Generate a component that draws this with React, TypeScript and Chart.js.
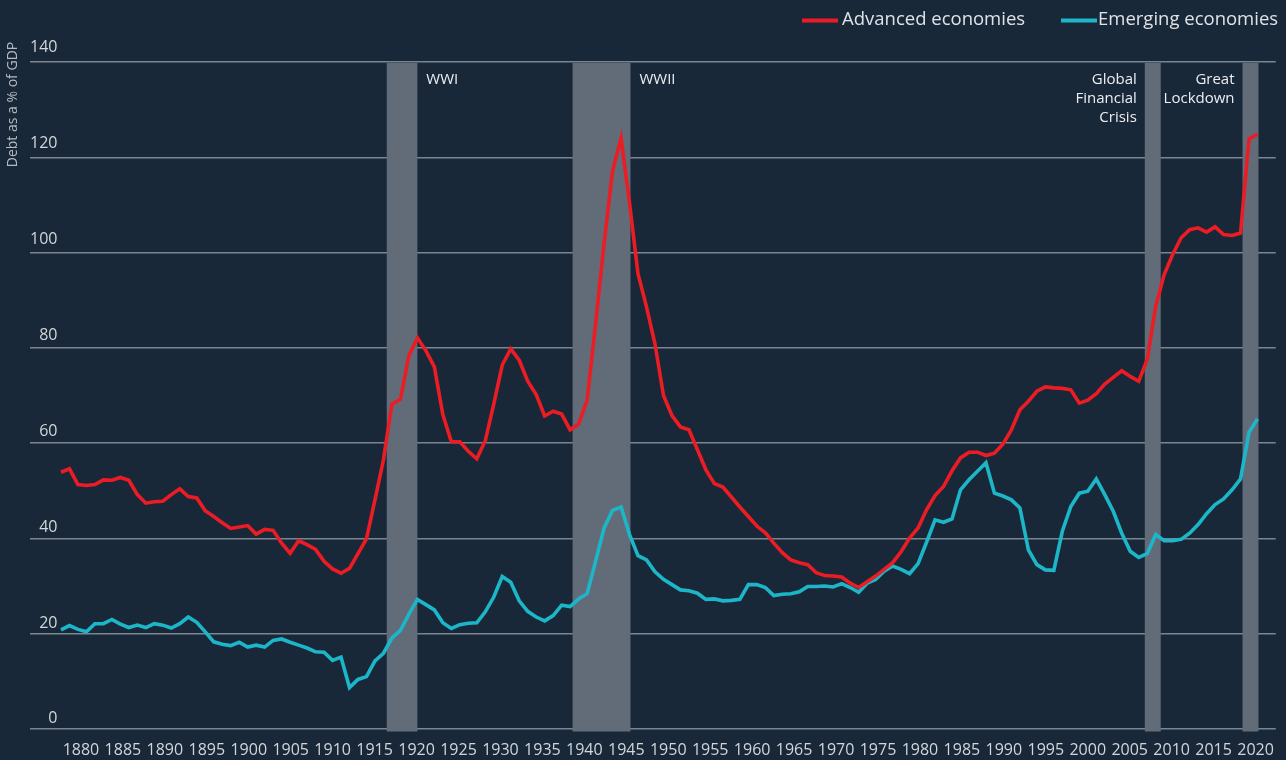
import React, { useEffect, useRef } from "react";
import { Chart, registerables } from "chart.js";

Chart.register(...registerables);

// ---------- data ----------
const FIRST_YEAR = 1880;

const advancedEconomies = [
  53.9, 54.6, 51.3, 51.1, 51.3, 52.3, 52.2, 52.8, 52.2, 49.2,
  47.4, 47.7, 47.8, 49.2, 50.4, 48.8, 48.5, 45.8, 44.6, 43.3,
  42.1, 42.4, 42.7, 40.9, 41.9, 41.7, 39.0, 36.9, 39.5, 38.7,
  37.7, 35.2, 33.6, 32.7, 33.7, 36.8, 39.9, 48.1, 56.5, 68.2,
  69.2, 78.4, 82.1, 79.4, 76.0, 66.0, 60.3, 60.3, 58.3, 56.7,
  60.5, 68.2, 76.4, 79.8, 77.4, 73.0, 70.2, 65.7, 66.7, 66.1,
  62.8, 64.0, 69.0, 85.0, 101.9, 117.2, 124.0, 110.4, 95.5, 88.6,
  80.8, 70.0, 65.8, 63.4, 62.8, 58.6, 54.4, 51.5, 50.8, 48.7,
  46.6, 44.6, 42.6, 41.2, 39.0, 37.0, 35.5, 34.9, 34.5, 32.8,
  32.2, 32.1, 31.9, 30.6, 29.7, 30.9, 32.1, 33.5, 34.9, 37.2,
  40.1, 42.2, 46.0, 49.0, 50.9, 54.2, 56.9, 58.1, 58.1, 57.4,
  57.9, 59.8, 62.8, 67.0, 68.8, 70.9, 71.8, 71.6, 71.5, 71.2,
  68.4, 69.0, 70.4, 72.4, 73.8, 75.2, 74.0, 73.0, 77.5, 88.7,
  95.4, 99.6, 103.1, 104.8, 105.2, 104.3, 105.4, 103.8, 103.6, 104.1,
  123.9, 124.8,
];

const emergingEconomies = [
  20.8, 21.7, 20.9, 20.4, 22.1, 22.1, 23.0, 22.0, 21.3, 21.8,
  21.3, 22.1, 21.8, 21.2, 22.1, 23.5, 22.4, 20.4, 18.3, 17.8,
  17.5, 18.2, 17.2, 17.6, 17.2, 18.6, 18.9, 18.2, 17.6, 17.0,
  16.2, 16.1, 14.4, 15.1, 8.7, 10.4, 11.0, 14.3, 15.9, 19.1,
  20.7, 24.1, 27.2, 26.1, 25.0, 22.3, 21.1, 21.9, 22.2, 22.3,
  24.6, 27.7, 32.0, 30.8, 26.9, 24.7, 23.5, 22.7, 23.8, 26.0,
  25.7, 27.3, 28.4, 35.2, 42.2, 45.9, 46.6, 40.8, 36.4, 35.5,
  33.0, 31.4, 30.3, 29.2, 29.0, 28.5, 27.2, 27.3, 26.9, 27.0,
  27.2, 30.3, 30.3, 29.7, 28.0, 28.3, 28.4, 28.8, 29.9, 29.9,
  30.0, 29.8, 30.5, 29.7, 28.7, 30.6, 31.4, 33.1, 34.2, 33.5,
  32.6, 34.7, 39.2, 43.9, 43.4, 44.1, 50.2, 52.3, 54.1, 55.9,
  49.5, 48.9, 48.1, 46.4, 37.6, 34.5, 33.4, 33.3, 41.5, 46.7,
  49.5, 49.9, 52.5, 49.2, 45.7, 41.1, 37.3, 36.0, 36.8, 40.8,
  39.5, 39.5, 39.8, 41.1, 42.9, 45.2, 47.1, 48.3, 50.2, 52.5,
  62.3, 65.1,
];

const seriesNames = ["Advanced economies", "Emerging economies"];
const seriesColors = ["#ec1c24", "#1db6c9"];

const xTickYears = [
  1880, 1885, 1890, 1895, 1900, 1905, 1910, 1915, 1920, 1925, 1930, 1935,
  1940, 1945, 1950, 1955, 1960, 1965, 1970, 1975, 1980, 1985, 1990, 1995,
  2000, 2005, 2010, 2015, 2020,
];
const yTickValues = [0, 20, 40, 60, 80, 100, 120, 140];

const eventNames = [["WWI"], ["WWII"], ["Global", "Financial", "Crisis"], ["Great", "Lockdown"]];
const eventStarts = [1916.45, 1938.6, 2006.8, 2018.45];
const eventEnds = [1920.1, 1945.5, 2008.7, 2020.35];
const eventTextSide = ["right", "right", "left", "left"];

// ---------- styles ----------
const BG = "#182838";
const FONT = "'Open Sans', 'Noto Sans', sans-serif";
const BAND = "#626c79";
const GRID = "#7a8591";
const TICK = "#d2d6db";

const overlayPlugin = {
  id: "overlay",
  beforeDatasetsDraw(chart: any) {
    const { ctx, chartArea } = chart;
    const xs = chart.scales.xl;
    ctx.save();
    ctx.fillStyle = BAND;
    eventStarts.forEach((s, i) => {
      const x0 = xs.getPixelForValue(s);
      const x1 = xs.getPixelForValue(eventEnds[i]);
      ctx.fillRect(x0, chartArea.top + 1, x1 - x0, chartArea.bottom - chartArea.top + 1.5);
    });
    ctx.restore();
  },
  afterDraw(chart: any) {
    const { ctx, chartArea } = chart;
    const xs = chart.scales.xl;
    ctx.save();
    // event annotations
    ctx.font = `15px ${FONT}`;
    ctx.fillStyle = "#eceef1";
    ctx.textBaseline = "middle";
    eventNames.forEach((lines, i) => {
      const right = eventTextSide[i] === "right";
      const x = right
        ? xs.getPixelForValue(eventEnds[i]) + 9
        : xs.getPixelForValue(eventStarts[i]) - 8;
      ctx.textAlign = right ? "left" : "right";
      lines.forEach((t, j) => ctx.fillText(t, x, chartArea.top + 18 + j * 19));
    });
    // y axis title
    ctx.save();
    ctx.translate(13.5, 104.5);
    ctx.rotate(-Math.PI / 2);
    ctx.font = `14px ${FONT}`;
    ctx.fillStyle = "#b3bac2";
    ctx.textAlign = "center";
    ctx.textBaseline = "middle";
    ctx.fillText("Debt as a % of GDP", 0, 0);
    ctx.restore();
    // legend
    const legendStarts = [802, 1061];
    const legendGaps = [4, 1];
    ctx.font = `18.5px ${FONT}`;
    ctx.textAlign = "left";
    ctx.textBaseline = "middle";
    seriesNames.forEach((name, i) => {
      const x = legendStarts[i];
      ctx.fillStyle = seriesColors[i];
      ctx.fillRect(x, 18.5, 36, 4);
      ctx.fillStyle = "#dfe2e6";
      ctx.fillText(name, x + 36 + legendGaps[i], 20);
    });
    ctx.restore();
  },
};

export default function App() {
  const canvasRef = useRef<HTMLCanvasElement | null>(null);

  useEffect(() => {
    const canvas = canvasRef.current;
    if (!canvas) return;
    const series = [advancedEconomies, emergingEconomies];
    const chart = new Chart(canvas, {
      type: "line",
      data: {
        datasets: series.map((vals, s) => ({
          label: seriesNames[s],
          data: vals.map((v, i) => ({ x: FIRST_YEAR + i, y: v })),
          borderColor: seriesColors[s],
          backgroundColor: seriesColors[s],
          borderWidth: 3.6,
          pointRadius: 0,
          tension: 0,
          fill: false,
          xAxisID: "x",
          yAxisID: "y",
        })),
      },
      options: {
        animation: false,
        responsive: true,
        maintainAspectRatio: false,
        devicePixelRatio: 1,
        layout: { padding: { left: 30, right: 9, top: 62, bottom: 0 } },
        plugins: {
          legend: { display: false },
          tooltip: { enabled: false },
        },
        scales: {
          x: {
            type: "linear",
            display: false,
            min: 1876.35,
            max: 2023.15,
          },
          xl: {
            type: "linear",
            position: "bottom",
            min: 1873.93,
            max: 2022.41,
            afterBuildTicks: (s: any) => {
              s.ticks = xTickYears.map((v) => ({ value: v }));
            },
            afterFit: (s: any) => {
              s.height = 31;
            },
            ticks: {
              autoSkip: false,
              maxRotation: 0,
              padding: 12,
              color: TICK,
              font: { family: FONT, size: 16 },
              callback: (v: any) => String(v),
            },
            grid: { display: false, drawTicks: false },
            border: { display: false },
          },
          y: {
            type: "linear",
            position: "left",
            min: 0,
            max: 140,
            afterBuildTicks: (s: any) => {
              s.ticks = yTickValues.map((v) => ({ value: v }));
            },
            ticks: { display: false },
            grid: { color: GRID, lineWidth: 1.5, drawTicks: false },
            border: { display: false },
          },
          yl: {
            type: "linear",
            position: "left",
            min: -2.13,
            max: 137.04,
            afterBuildTicks: (s: any) => {
              s.ticks = yTickValues.map((v) => ({ value: v }));
            },
            ticks: {
              mirror: true,
              crossAlign: "far",
              padding: 0,
              color: TICK,
              font: { family: FONT, size: 16 },
              callback: (v: any) => String(v),
            },
            grid: { display: false, drawTicks: false },
            border: { display: false },
          },
        },
      },
      plugins: [overlayPlugin],
    } as any);
    return () => chart.destroy();
  }, []);

  return (
    <div
      style={{
        position: "absolute",
        left: 0,
        top: 0,
        width: 1286,
        height: 760,
        background: BG,
      }}
    >
      <canvas ref={canvasRef} />
    </div>
  );
}
